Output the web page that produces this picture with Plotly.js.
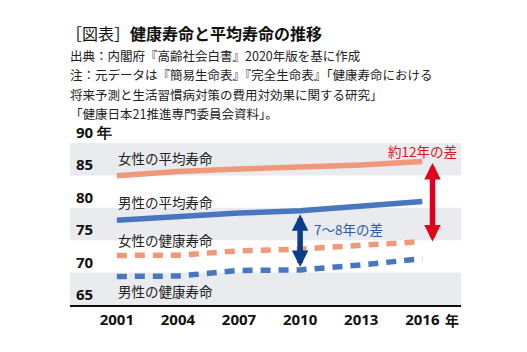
<!DOCTYPE html>
<html>
<head>
<meta charset="utf-8">
<script src="https://cdn.plot.ly/plotly-3.0.1.min.js"></script>
<style>html,body{margin:0;padding:0;background:#fff;}#chart{width:527px;height:352px;}</style>
</head>
<body>
<div id="chart"></div>
<script>
// ---- data ----
const years = [2001, 2004, 2007, 2010, 2013, 2016];
const femaleAvg = [84.93, 85.59, 85.99, 86.30, 86.61, 87.14];
const maleAvg = [78.07, 78.64, 79.19, 79.55, 80.21, 80.98];
const femaleHealthy = [72.65, 72.69, 73.36, 73.62, 74.21, 74.79];
const maleHealthy = [69.40, 69.47, 70.33, 70.42, 71.19, 72.14];
const yTicks = [65, 70, 75, 80, 85, 90];
const yTickText = ['65', '70', '75', '80', '85', '90 年'];
const xTickText = ['2001', '2004', '2007', '2010', '2013', '2016'];
const seriesNames = ['女性の平均寿命', '男性の平均寿命', '女性の健康寿命', '男性の健康寿命'];
const titleMain = '健康寿命と平均寿命の推移';
const titlePrefix = '［図表］';
const noteLines = [
  '出典：内閣府『高齢社会白書』2020年版を基に作成',
  '注：元データは『簡易生命表』『完全生命表』「健康寿命における',
  '将来予測と生活習慣病対策の費用対効果に関する研究」',
  '「健康日本21推進専門委員会資料」。'
];
const gapFemale = '約12年の差';
const gapMale = '7〜8年の差';

const ORANGE = '#f0987a';
const BLUE = '#4877bf';
const JP = '"Noto Sans CJK JP", "Noto Sans", sans-serif';
const NUM = '"Noto Sans", "Open Sans", sans-serif';

const traces = [
  {x: years, y: femaleAvg, mode: 'lines', line: {color: ORANGE, width: 5.5}},
  {x: years, y: maleAvg, mode: 'lines', line: {color: BLUE, width: 5.5}},
  {x: years, y: femaleHealthy, mode: 'lines', line: {color: ORANGE, width: 5.5, dash: '10px,8px'}},
  {x: years, y: maleHealthy, mode: 'lines', line: {color: BLUE, width: 5.5, dash: '10px,8px'}}
].map(t => Object.assign(t, {hoverinfo: 'skip', showlegend: false}));

const shapes = [[65, 70], [75, 80], [85, 90]].map(b => ({
  type: 'rect', xref: 'paper', yref: 'y', x0: 0, x1: 1, y0: b[0], y1: b[1],
  fillcolor: '#e9ebee', line: {width: 0}, layer: 'below'
}));

const annotations = [];
// y tick labels (sitting above each gridline)
yTicks.forEach((v, i) => annotations.push({
  xref: 'paper', yref: 'y', x: 0, y: v, xanchor: 'left', yanchor: 'bottom',
  xshift: 4, yshift: -1, showarrow: false, text: '<b>' + yTickText[i] + '</b>',
  font: {family: NUM, size: 15, color: '#111'}
}));
// x unit
annotations.push({xref: 'paper', yref: 'paper', x: 1, y: 0, xanchor: 'right', yanchor: 'top',
  yshift: -3, showarrow: false, text: '<b>年</b>', font: {family: JP, size: 14, color: '#111'}});
// title and notes
annotations.push({xref: 'paper', yref: 'paper', x: 0, y: (305 - 33) / 162, xanchor: 'left', yanchor: 'middle',
  xshift: -6, showarrow: false, text: titlePrefix + '<b>' + titleMain + '</b>',
  font: {family: JP, size: 16, color: '#111'}});
noteLines.forEach((t, i) => annotations.push({
  xref: 'paper', yref: 'paper', x: 0, y: (305 - (55 + i * 19.5)) / 162, xanchor: 'left', yanchor: 'middle',
  xshift: -2, showarrow: false, text: t, font: {family: JP, size: 12.5, color: '#222'}
}));
// series labels
const labelY = [87.7, 80.9, 75.0, 67.2];
seriesNames.forEach((n, i) => annotations.push({
  x: years[0], y: labelY[i], xanchor: 'left', yanchor: 'middle', xshift: -1, showarrow: false,
  text: n, font: {family: JP, size: 13.5, color: '#222'}
}));
// gap labels
annotations.push({x: years[5], y: 88.8, xanchor: 'center', yanchor: 'middle', showarrow: false,
  text: gapFemale, font: {family: JP, size: 13.5, color: '#d7141f'}});
annotations.push({x: 2010.6, y: 76.8, xanchor: 'left', yanchor: 'middle', showarrow: false,
  text: gapMale, font: {family: JP, size: 13.5, color: '#2b5ca6'}});
// double arrows
annotations.push({x: 2016.5, y: femaleHealthy[5], ax: 2016.5, ay: femaleAvg[5], axref: 'x', ayref: 'y',
  text: '', showarrow: true, arrowhead: 2, startarrowhead: 2, arrowside: 'end+start',
  arrowsize: 0.6, startarrowsize: 0.6, arrowwidth: 5.5,
  arrowcolor: '#e0001b', standoff: 0, startstandoff: 0});
annotations.push({x: years[3], y: maleHealthy[3] + 0.45, ax: years[3], ay: maleAvg[3] - 0.3, axref: 'x', ayref: 'y',
  text: '', showarrow: true, arrowhead: 2, startarrowhead: 2, arrowside: 'end+start',
  arrowsize: 0.6, startarrowsize: 0.6, arrowwidth: 5.5,
  arrowcolor: '#0a3d8c', standoff: 0, startstandoff: 0});

const layout = {
  width: 527, height: 352,
  margin: {l: 70, r: 66, t: 143, b: 47, pad: 0},
  paper_bgcolor: '#fff', plot_bgcolor: '#fff',
  showlegend: false,
  xaxis: {range: [1998.7, 2017.9], tickvals: years, ticktext: xTickText.map(t => '<b>' + t + '</b>'),
    ticks: '', showgrid: false, zeroline: false, showline: true, linecolor: '#111', linewidth: 1.5,
    tickfont: {family: NUM, size: 15, color: '#111'}, fixedrange: true},
  yaxis: {range: [65, 90], showticklabels: false, ticks: '', showgrid: false, zeroline: false,
    showline: false, fixedrange: true},
  shapes: shapes,
  annotations: annotations
};

Plotly.newPlot('chart', traces, layout, {displayModeBar: false, staticPlot: true});
</script>
</body>
</html>
